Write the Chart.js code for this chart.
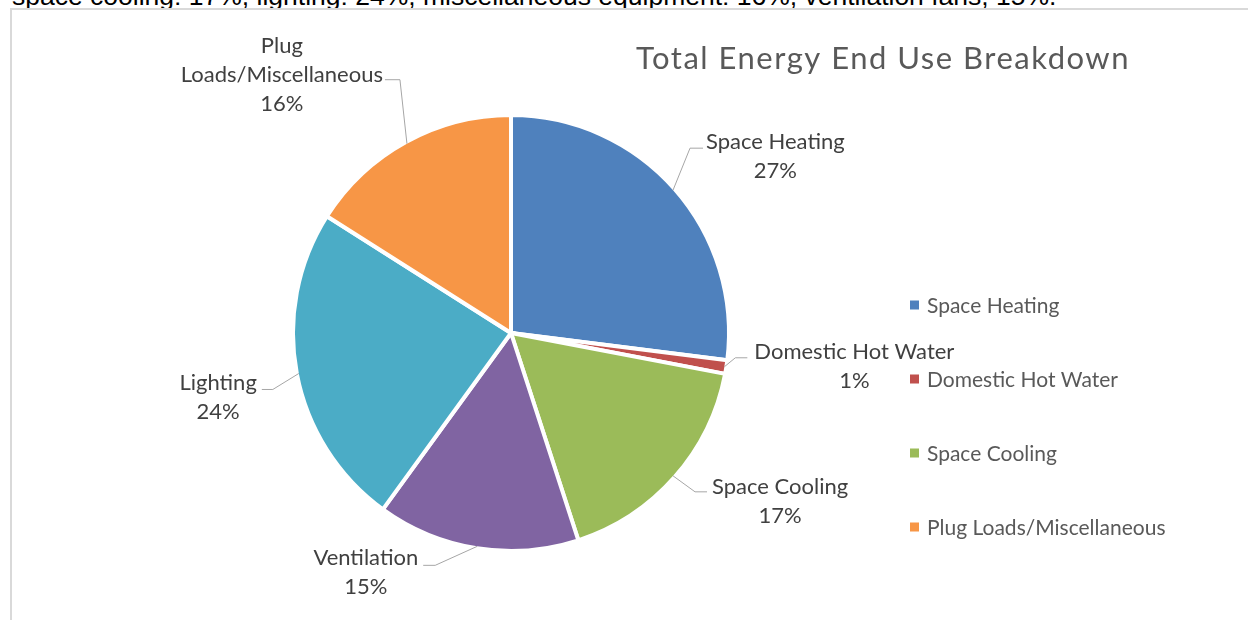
<!DOCTYPE html>
<html>
<head>
<meta charset="utf-8">
<script src="https://cdn.jsdelivr.net/npm/chart.js@4.4.0/dist/chart.umd.min.js"></script>
<style>
  html, body { margin: 0; padding: 0; background: #fff; }
  body { width: 1248px; height: 620px; position: relative; overflow: hidden; }
  #caption {
    position: absolute; left: 12px; top: -17px;
    font: 26.5px/26.5px "Liberation Sans", Arial, sans-serif;
    color: #000; white-space: nowrap;
  }
  #frame {
    position: absolute; left: 10px; top: 8px; width: 1300px; height: 700px;
    border-left: 2px solid #d9d9d9; border-top: 2px solid #d9d9d9; background: #fff;
  }
  #wrap { position: absolute; left: 0; top: 0; width: 1248px; height: 620px; }
</style>
</head>
<body>
<div id="caption">space cooling: 17%, lighting: 24%, miscellaneous equipment: 16%, ventilation fans, 15%.</div>
<div id="frame"></div>
<div id="wrap"><canvas id="pie"></canvas></div>
<script>
const chartTitle = 'Total Energy End Use Breakdown'
const categories = ['Space Heating', 'Domestic Hot Water', 'Space Cooling', 'Ventilation', 'Lighting', 'Plug Loads/Miscellaneous']
const shares = [27, 1, 17, 15, 24, 16]
const legendShown = ['Space Heating', 'Domestic Hot Water', 'Space Cooling', 'Plug Loads/Miscellaneous']

const sliceColors = ['#4f81bd', '#c0504d', '#9bbb59', '#8064a2', '#4bacc6', '#f79646']

// leader line per slice: elbow offset from the slice edge, horizontal run,
// gap to the text block and where the block's middle sits from the run
const leaders = [
  { ex: 17, ey: -42, run: 13, gap: 3, dy: 7.5 },
  { ex: 11, ey: -9, run: 12, gap: 7, dy: 8 },
  { ex: 22, ey: 16, run: 12, gap: 5, dy: 8.5 },
  { ex: -42, ey: 19, run: -12, gap: 5, dy: 6.5 },
  { ex: -26, ey: 16, run: -11, gap: 5, dy: 7.5 },
  { ex: -7, ey: -64, run: -15, gap: 2, dy: -6 },
]

const LABEL_FONT = '22px Lato'
const LEGEND_FONT = '21px Lato'
const LINE_H = 29
const WRAP_AT = 215

function wrapLabel(ctx, text) {
  if (ctx.measureText(text).width <= WRAP_AT) return [text]
  const words = text.split(' ')
  const lines = []
  let cur = ''
  words.forEach((w) => {
    const next = cur ? cur + ' ' + w : w
    if (cur && ctx.measureText(next).width > WRAP_AT) {
      lines.push(cur)
      cur = w
    } else {
      cur = next
    }
  })
  if (cur) lines.push(cur)
  return lines
}

const decorations = {
  id: 'endUseDecorations',
  afterDatasetsDraw(chart) {
    const ctx = chart.ctx
    const arcs = chart.getDatasetMeta(0).data
    const bw = chart.data.datasets[0].borderWidth
    ctx.save()
    ctx.font = LABEL_FONT

    arcs.forEach((arc, i) => {
      const p = arc.getProps(['x', 'y', 'startAngle', 'endAngle', 'outerRadius'], true)
      const mid = (p.startAngle + p.endAngle) / 2
      const r = p.outerRadius - bw / 2
      const px = p.x + Math.cos(mid) * r
      const py = p.y + Math.sin(mid) * r
      const L = leaders[i]
      const kx = px + L.ex
      const ky = py + L.ey
      const endX = kx + L.run

      ctx.strokeStyle = '#a6a6a6'
      ctx.lineWidth = 1
      ctx.beginPath()
      ctx.moveTo(px, py)
      ctx.lineTo(kx, ky)
      ctx.lineTo(endX, ky)
      ctx.stroke()

      const lines = wrapLabel(ctx, categories[i]).concat([shares[i] + '%'])
      const w = Math.max(...lines.map((t) => ctx.measureText(t).width))
      const cx = L.run > 0 ? endX + L.gap + w / 2 : endX - L.gap - w / 2
      const cy = ky + L.dy
      ctx.fillStyle = '#404040'
      ctx.textAlign = 'center'
      ctx.textBaseline = 'alphabetic'
      lines.forEach((t, k) => {
        const ly = cy + (k - (lines.length - 1) / 2) * LINE_H
        ctx.fillText(t, cx, ly + 8)
      })
    })
    ctx.restore()
  },
  afterDraw(chart) {
    const ctx = chart.ctx
    ctx.save()
    // title
    ctx.font = '31px Lato'
    ctx.letterSpacing = '1.5px'
    ctx.fillStyle = '#595959'
    ctx.textAlign = 'center'
    ctx.textBaseline = 'alphabetic'
    ctx.fillText(chartTitle, 883, 69)
    ctx.letterSpacing = '0px'

    // legend
    ctx.font = LEGEND_FONT
    ctx.textAlign = 'left'
    legendShown.forEach((name, k) => {
      const idx = categories.indexOf(name)
      const cy = 305 + k * 74
      ctx.fillStyle = sliceColors[idx]
      ctx.fillRect(910, cy - 4.5, 9, 9)
      ctx.fillStyle = '#595959'
      ctx.fillText(name, 927, cy + 7.5)
    })
    ctx.restore()
  },
}

new Chart(document.getElementById('pie'), {
  type: 'pie',
  data: {
    labels: categories,
    datasets: [
      {
        data: shares,
        backgroundColor: sliceColors,
        borderColor: '#ffffff',
        borderWidth: 4,
      },
    ],
  },
  options: {
    responsive: true,
    maintainAspectRatio: false,
    animation: false,
    layout: { padding: { left: 291, right: 517, top: 113, bottom: 67 } },
    plugins: {
      legend: { display: false },
      tooltip: { enabled: false },
    },
  },
  plugins: [decorations],
})
</script>
</body>
</html>
